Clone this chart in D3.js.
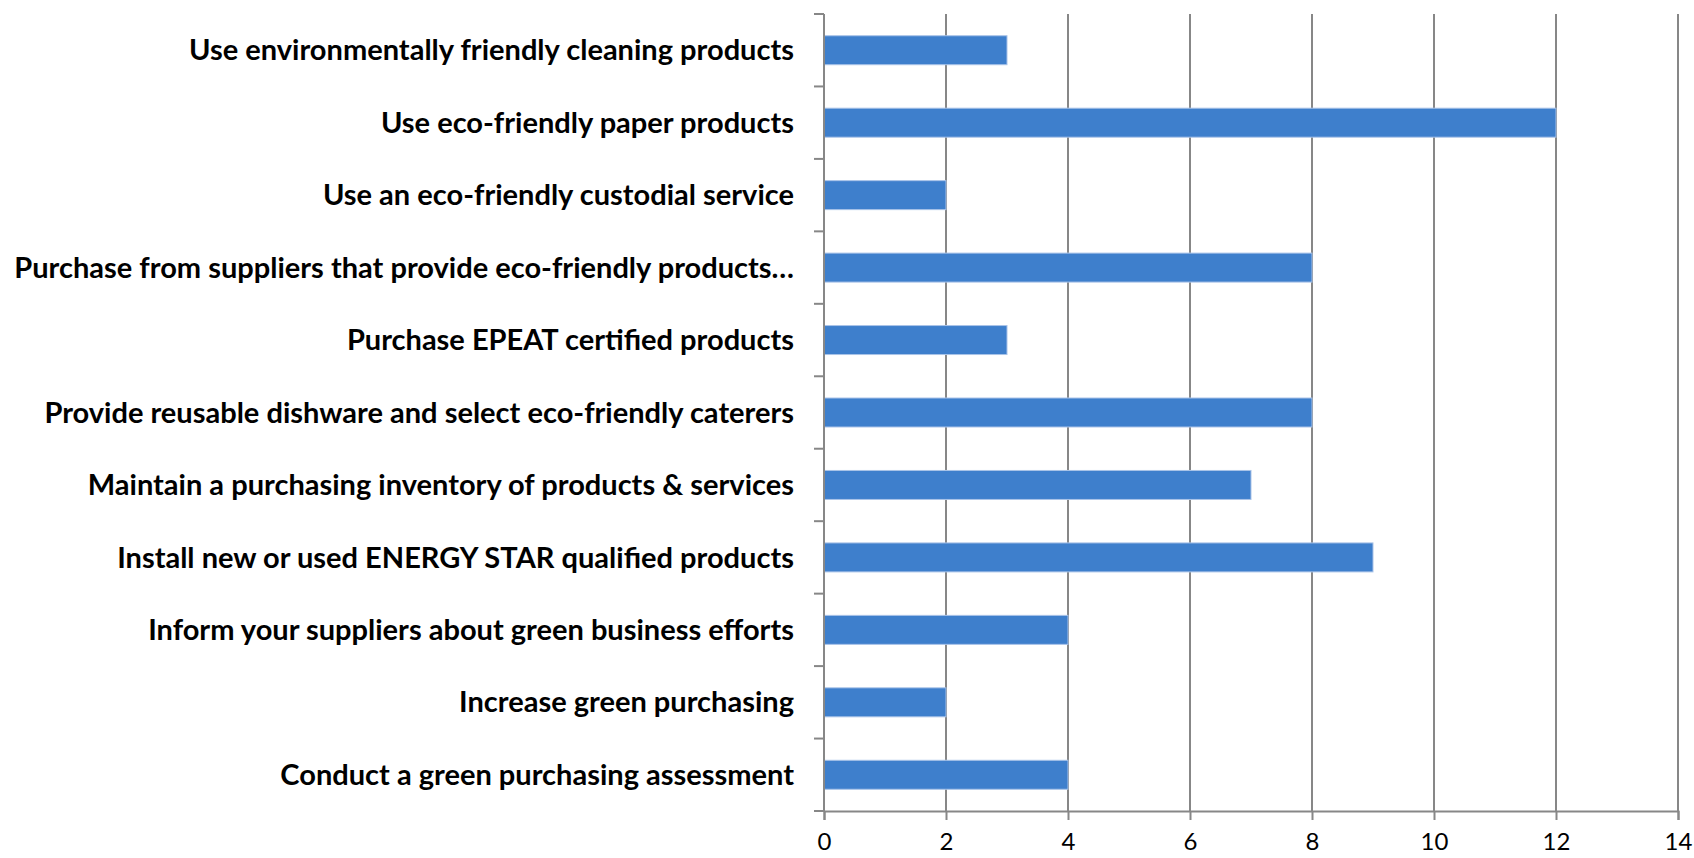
<!DOCTYPE html>
<html>
<head>
<meta charset="utf-8">
<script src="https://cdn.jsdelivr.net/npm/d3@7"></script>
<style>
body { margin: 0; background: #fff; }
svg { display: block; }
</style>
</head>
<body>
<svg id="chart" width="1694" height="858"></svg>
<script>
'use strict';

// categories from top to bottom
const categories = [
	'Use environmentally friendly cleaning products',
	'Use eco-friendly paper products',
	'Use an eco-friendly custodial service',
	'Purchase from suppliers that provide eco-friendly products\u2026',
	'Purchase EPEAT certified products',
	'Provide reusable dishware and select eco-friendly caterers',
	'Maintain a purchasing inventory of products & services',
	'Install new or used ENERGY STAR qualified products',
	'Inform your suppliers about green business efforts',
	'Increase green purchasing',
	'Conduct a green purchasing assessment'
];
const values = [3, 12, 2, 8, 3, 8, 7, 9, 4, 2, 4];
const xTicks = [0, 2, 4, 6, 8, 10, 12, 14];

const margin = {top: 14, left: 824, right: 16, bottom: 47};
const width = 1694;
const height = 858;
const axisColour = '#878787';
const barColour = '#3e7fcc';

let svg = d3.select('#chart');

let x = d3.scaleLinear()
	.domain([0, 14])
	.range([margin.left, width - margin.right]);

let y = d3.scaleBand()
	.domain(categories)
	.range([margin.top, height - margin.bottom])
	.paddingInner(0.6)
	.paddingOuter(0.3);

let plotBottom = height - margin.bottom;

// vertical gridlines
svg.append('g')
	.selectAll('line')
	.data(xTicks.slice(1))
	.enter().append('line')
		.attr('x1', d => x(d))
		.attr('x2', d => x(d))
		.attr('y1', margin.top)
		.attr('y2', plotBottom)
		.attr('stroke', axisColour)
		.attr('stroke-width', 2);

// bars
svg.append('g')
	.selectAll('rect')
	.data(values)
	.enter().append('rect')
		.attr('x', x(0))
		.attr('y', (d, i) => y(categories[i]))
		.attr('width', d => x(d) - x(0))
		.attr('height', y.bandwidth())
		.attr('fill', barColour)
		.attr('stroke', '#a9c3e8')
		.attr('stroke-width', 1);

// x axis
let xAxis = svg.append('g')
	.attr('transform', 'translate(0,' + plotBottom + ')')
	.call(d3.axisBottom(x).tickValues(xTicks).tickSize(9).tickPadding(13));
xAxis.attr('font-size', null).attr('font-family', null);
xAxis.select('.domain').attr('stroke', axisColour).attr('stroke-width', 2);
xAxis.selectAll('.tick line').attr('stroke', axisColour).attr('stroke-width', 2);
xAxis.selectAll('.tick text')
	.attr('fill', '#000')
	.attr('font-family', 'Lato, "Open Sans", sans-serif')
	.attr('font-size', 24);

// y axis: ticks on band boundaries
let step = y.step();
let bounds = d3.range(categories.length + 1).map(i => margin.top + i * step);
svg.append('line')
	.attr('x1', x(0)).attr('x2', x(0))
	.attr('y1', margin.top).attr('y2', plotBottom)
	.attr('stroke', axisColour).attr('stroke-width', 2);
svg.append('g')
	.selectAll('line')
	.data(bounds)
	.enter().append('line')
		.attr('x1', x(0) - 10)
		.attr('x2', x(0))
		.attr('y1', d => d)
		.attr('y2', d => d)
		.attr('stroke', axisColour)
		.attr('stroke-width', 2);

// category labels
let labels = svg.append('g')
	.selectAll('text')
	.data(categories)
	.enter().append('text')
		.attr('x', x(0) - 30)
		.attr('y', d => y(d) + y.bandwidth() / 2)
		.attr('dy', '0.35em')
		.attr('text-anchor', 'end')
		.attr('fill', '#000')
		.style('font-family', 'Lato, "Open Sans", sans-serif')
		.style('font-weight', 'bold')
		.style('font-size', '26px')
		.text(d => d);

// shrink the font so the longest label fits the same width as the original
let longest = d3.max(labels.nodes(), n => n.getComputedTextLength());
let fontSize = 26 * 780 / longest;
labels.style('font-size', fontSize + 'px');
</script>
</body>
</html>
